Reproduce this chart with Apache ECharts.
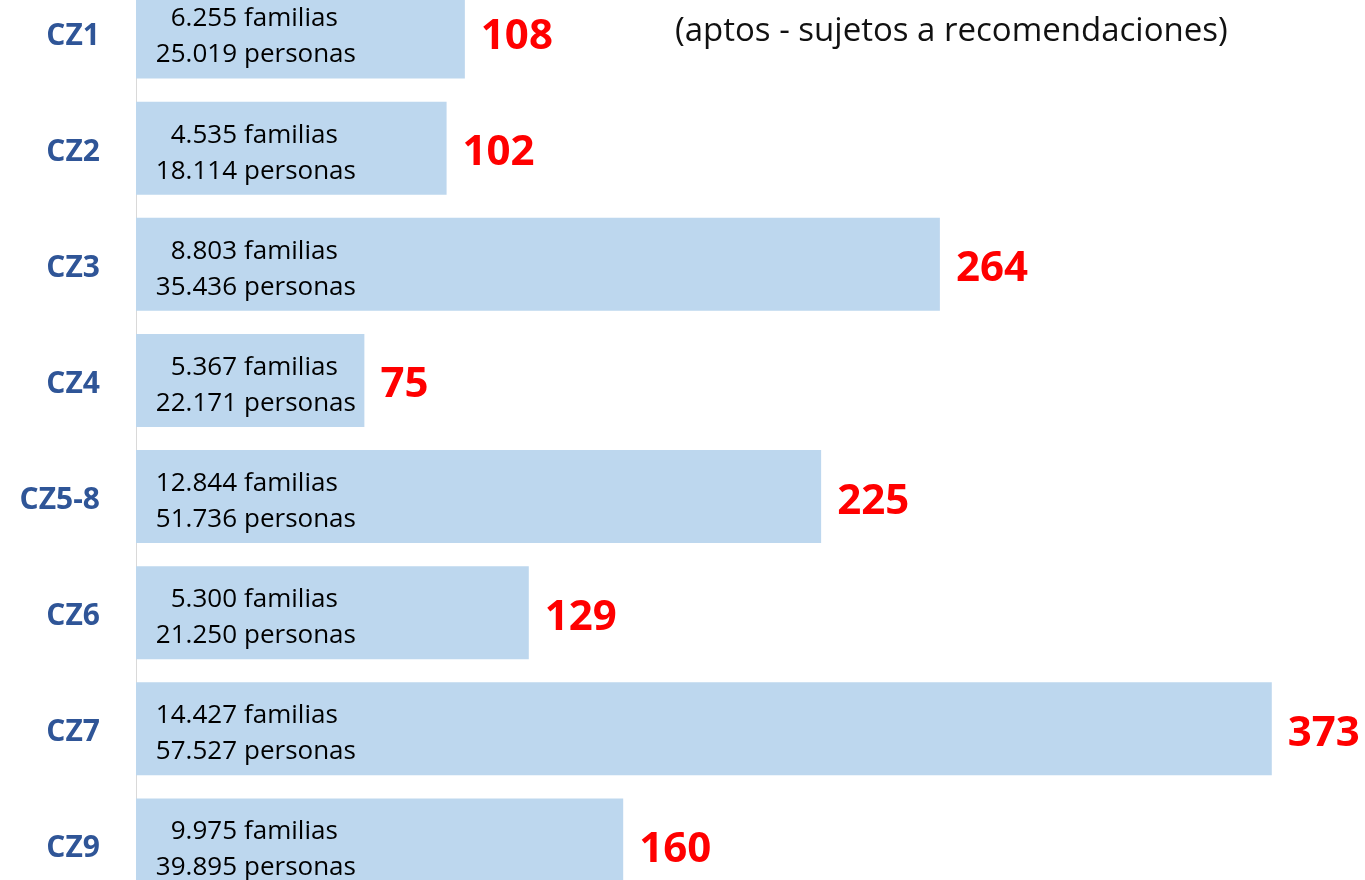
<!DOCTYPE html>
<html>
<head>
<meta charset="utf-8">
<script src="https://cdn.jsdelivr.net/npm/echarts@6/dist/echarts.min.js"></script>
<style>
    html, body { margin: 0; padding: 0; background: #fff; }
    #main { width: 1365px; height: 880px; }
</style>
</head>
<body>
<div id="main"></div>
<script>
var zonas = ['CZ1', 'CZ2', 'CZ3', 'CZ4', 'CZ5-8', 'CZ6', 'CZ7', 'CZ9'];
var solicitudes = [108, 102, 264, 75, 225, 129, 373, 160];
var familias = ['6.255', '4.535', '8.803', '5.367', '12.844', '5.300', '14.427', '9.975'];
var personas = ['25.019', '18.114', '35.436', '22.171', '51.736', '21.250', '57.527', '39.895'];
var subtitulo = '(aptos - sujetos a recomendaciones)';

var textoBarra = {
    fontFamily: 'Open Sans',
    fontSize: 26,
    color: '#000',
    lineHeight: 36
};

var chart = echarts.init(document.getElementById('main'));

chart.setOption({
    animation: false,
    title: {
        text: subtitulo,
        left: 670,
        top: 10,
        textStyle: {
            fontFamily: 'Open Sans',
            fontSize: 33,
            fontWeight: 'normal',
            color: '#111'
        }
    },
    grid: {
        left: 136,
        right: 11,
        top: -26,
        bottom: -23,
        containLabel: false,
        outerBoundsMode: 'none'
    },
    xAxis: {
        type: 'value',
        min: 0,
        max: 400,
        show: false
    },
    yAxis: {
        type: 'category',
        data: zonas,
        inverse: true,
        axisTick: { show: false },
        axisLine: { lineStyle: { color: '#D9D9D9', width: 1 } },
        axisLabel: {
            margin: 36,
            formatter: '{z|{value}}',
            rich: {
                z: {
                    padding: [8, 0, 0, 0],
                    fontFamily: 'Open Sans',
                    fontSize: 30,
                    fontWeight: 'bold',
                    color: '#2F5597'
                }
            }
        }
    },
    series: [
        {
            // the bar itself, carries the numbers (right aligned)
            type: 'bar',
            data: solicitudes,
            barWidth: 93,
            itemStyle: { color: '#BDD7EE' },
            label: Object.assign({
                show: true,
                position: [101, '50%'],
                offset: [0, 5],
                align: 'right',
                verticalAlign: 'middle',
                formatter: function (p) {
                    return familias[p.dataIndex] + '\n' + personas[p.dataIndex];
                }
            }, textoBarra)
        },
        {
            // transparent twin, carries the words
            type: 'bar',
            data: solicitudes,
            barWidth: 93,
            barGap: '-100%',
            itemStyle: { color: 'rgba(0,0,0,0)' },
            label: Object.assign({
                show: true,
                position: [108, '50%'],
                offset: [0, 5],
                align: 'left',
                verticalAlign: 'middle',
                formatter: 'familias\npersonas'
            }, textoBarra)
        },
        {
            // transparent twin, carries the red count
            type: 'bar',
            data: solicitudes,
            barWidth: 93,
            barGap: '-100%',
            itemStyle: { color: 'rgba(0,0,0,0)' },
            label: {
                show: true,
                position: 'right',
                distance: 16,
                offset: [0, 5],
                fontFamily: 'Open Sans',
                fontSize: 42,
                fontWeight: 'bold',
                color: '#FF0000'
            }
        }
    ]
});
</script>
</body>
</html>
